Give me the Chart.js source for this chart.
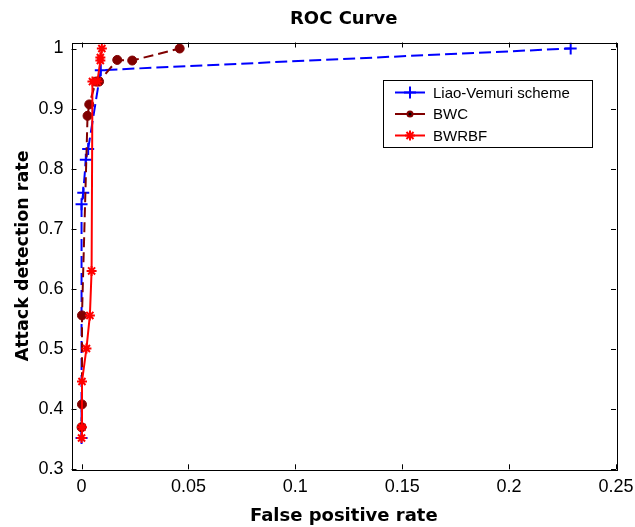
<!DOCTYPE html>
<html>
<head>
<meta charset="utf-8">
<script src="https://cdn.jsdelivr.net/npm/chart.js@4/dist/chart.umd.min.js"></script>
<style>
  body { margin: 0; background: #fff; }
  #wrap { width: 635px; height: 527px; }
</style>
</head>
<body>
<div id="wrap"><canvas id="chart" width="635" height="527"></canvas></div>
<script>
// values
const liaoX = [0, 0, 0.0008, 0.002, 0.0031, 0.009, 0.2288];
const liaoY = [0.352, 0.741, 0.76, 0.815, 0.833, 0.964, 1.0];
const bwcX = [0, 0.0002, 0.0002, 0.0028, 0.0036, 0.0067, 0.0082, 0.0167, 0.0237, 0.0459];
const bwcY = [0.37, 0.408, 0.556, 0.888, 0.907, 0.945, 0.945, 0.981, 0.98, 1.0];
const rbfX = [0, 0.0002, 0.0002, 0.0023, 0.0039, 0.0047, 0.0051, 0.0074, 0.0088, 0.0088, 0.0095];
const rbfY = [0.352, 0.37, 0.446, 0.501, 0.556, 0.63, 0.945, 0.945, 0.98, 0.985, 1.0];
const xTicks = [0, 0.05, 0.1, 0.15, 0.2, 0.25];
const yTicks = [0.3, 0.4, 0.5, 0.6, 0.7, 0.8, 0.9, 1];

const seriesNames = ["Liao-Vemuri scheme", "BWC", "BWRBF"];
const chartTitle = "ROC Curve";

function pts(xs, ys) {
  return xs.map((x, i) => ({ x: x, y: ys[i] }));
}

const FONT = "'Liberation Sans', Arial, sans-serif";
const BOLD = "'DejaVu Sans', sans-serif";

// box round the plot, matlab style inward ticks, title and legend
const boxPlugin = {
  id: "box",
  afterDatasetsDraw(chart) {
    const ctx = chart.ctx;
    const a = chart.chartArea;
    const xs = chart.scales.x, ys = chart.scales.y;
    ctx.save();
    ctx.strokeStyle = "#000";
    ctx.lineWidth = 1;
    ctx.strokeRect(Math.round(a.left) + 0.5, Math.round(a.top) + 0.5,
      Math.round(a.right - a.left), Math.round(a.bottom - a.top));
    ctx.beginPath();
    const len = 5;
    xTicks.forEach((v) => {
      const p = Math.round(xs.getPixelForValue(v)) + 0.5;
      ctx.moveTo(p, a.bottom); ctx.lineTo(p, a.bottom - len);
      ctx.moveTo(p, a.top); ctx.lineTo(p, a.top + len);
    });
    yTicks.forEach((v) => {
      const p = Math.round(ys.getPixelForValue(v)) + 0.5;
      ctx.moveTo(a.left, p); ctx.lineTo(a.left + len, p);
      ctx.moveTo(a.right, p); ctx.lineTo(a.right - len, p);
    });
    ctx.stroke();
    ctx.restore();
  },
  afterDraw(chart) {
    const ctx = chart.ctx;
    const a = chart.chartArea;
    ctx.save();
    // title centred over the plot box
    ctx.fillStyle = "#000";
    ctx.font = "bold 18px " + BOLD;
    ctx.textAlign = "center";
    ctx.textBaseline = "middle";
    ctx.fillText(chartTitle, (a.left + a.right) / 2, 19);

    // legend box in the upper right of the plot
    const bx = 383, by = 80, bw = 209, bh = 67;
    ctx.fillStyle = "#fff";
    ctx.fillRect(bx, by, bw, bh);
    ctx.strokeStyle = "#000";
    ctx.lineWidth = 1;
    ctx.strokeRect(bx + 0.5, by + 0.5, bw, bh);
    chart.data.datasets.forEach((d, i) => {
      const yy = by + 12.5 + i * 21.5;
      ctx.strokeStyle = d.borderColor;
      ctx.lineWidth = 2;
      ctx.setLineDash([]);
      ctx.beginPath();
      ctx.moveTo(bx + 12, yy); ctx.lineTo(bx + 42, yy);
      ctx.stroke();
      Chart.helpers.drawPoint(ctx, {
        pointStyle: d.pointStyle,
        radius: i === 1 ? 2.5 : d.pointRadius,
        borderWidth: d.pointBorderWidth
      }, bx + 27, yy);
      ctx.fillStyle = "#000";
      ctx.font = "15px " + FONT;
      ctx.textAlign = "left";
      ctx.textBaseline = "middle";
      ctx.fillText(d.label, bx + 50, yy + 1);
    });
    ctx.restore();
  }
};

const ctx = document.getElementById("chart").getContext("2d");

new Chart(ctx, {
  type: "scatter",
  data: {
    datasets: [
      {
        label: seriesNames[0],
        data: pts(liaoX, liaoY),
        showLine: true,
        borderColor: "#0000ff",
        backgroundColor: "#0000ff",
        borderWidth: 2,
        borderDash: [12, 5],
        pointStyle: "cross",
        pointRadius: 6,
        pointBorderWidth: 2,
        pointBorderColor: "#0000ff",
        order: 3
      },
      {
        label: seriesNames[1],
        data: pts(bwcX, bwcY),
        showLine: true,
        borderColor: "#800000",
        backgroundColor: "#800000",
        borderWidth: 2,
        borderDash: [10, 5],
        pointStyle: "circle",
        pointRadius: 4.5,
        pointBorderWidth: 1,
        pointBorderColor: "#800000",
        order: 2
      },
      {
        label: seriesNames[2],
        data: pts(rbfX, rbfY),
        showLine: true,
        borderColor: "#ff0000",
        backgroundColor: "#ff0000",
        borderWidth: 2,
        pointStyle: "star",
        pointRadius: 5,
        pointBorderWidth: 2,
        pointBorderColor: "#ff0000",
        order: 1
      }
    ]
  },
  options: {
    responsive: false,
    animation: false,
    layout: { padding: { left: 0, right: 19, top: 42.5, bottom: 0 } },
    elements: { line: { tension: 0 } },
    plugins: {
      legend: { display: false },
      tooltip: { enabled: false },
      title: { display: false }
    },
    scales: {
      x: {
        type: "linear",
        min: -0.0047,
        max: 0.25,
        grid: { display: false, drawTicks: false },
        border: { display: false },
        afterBuildTicks(scale) {
          scale.ticks = xTicks.map((v) => ({ value: v }));
        },
        afterFit(scale) {
          scale.height = 57.7;
          scale.paddingLeft = 0;
          scale.paddingRight = 0;
        },
        ticks: {
          color: "#000",
          padding: 7,
          maxRotation: 0,
          font: { family: FONT, size: 18 },
          callback: (v) => String(Math.round(v * 100) / 100)
        },
        title: {
          display: true,
          text: "False positive rate",
          color: "#000",
          font: { family: BOLD, size: 18, weight: "bold" },
          padding: { top: 1, bottom: 0 }
        }
      },
      y: {
        type: "linear",
        min: 0.3,
        max: 1.01,
        grid: { display: false, drawTicks: false },
        border: { display: false },
        afterBuildTicks(scale) {
          scale.ticks = yTicks.map((v) => ({ value: v }));
        },
        afterFit(scale) {
          scale.width = 71.5;
          scale.paddingTop = 0;
          scale.paddingBottom = 0;
        },
        ticks: {
          color: "#000",
          padding: 8,
          font: { family: FONT, size: 18 },
          callback: (v) => String(Math.round(v * 10) / 10)
        },
        title: {
          display: true,
          text: "Attack detection rate",
          color: "#000",
          font: { family: BOLD, size: 17.5, weight: "bold" },
          padding: { top: 13, bottom: 0 }
        }
      }
    }
  },
  plugins: [boxPlugin]
});
</script>
</body>
</html>
